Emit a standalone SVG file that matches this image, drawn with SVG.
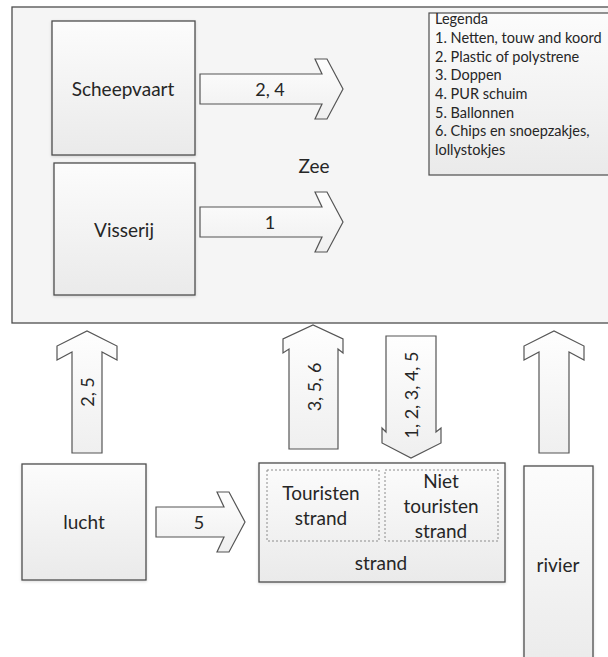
<svg xmlns="http://www.w3.org/2000/svg" width="608" height="657" viewBox="0 0 608 657">
<style>
  .box { fill: url(#g); stroke: #4d4d4d; stroke-width: 1.3; filter: url(#sh); }
  .arr { fill: url(#ga); stroke: #555; stroke-width: 1.2; stroke-linejoin: miter; }
  .dot { fill: none; stroke: #8c8c8c; stroke-width: 1; stroke-dasharray: 2 2; }
  text { font-family: Lato, "Open Sans", "Liberation Sans", sans-serif; fill: #262626; }
  .lbl { font-size: 19px; text-anchor: middle; dominant-baseline: central; }
  .al { font-size: 18px; text-anchor: middle; dominant-baseline: central; }
  .leg { font-size: 14.5px; }
</style>
<defs>
  <linearGradient id="g" x1="0" y1="0" x2="0" y2="1">
    <stop offset="0" stop-color="#fcfcfc"/>
    <stop offset="1" stop-color="#eaeaea"/>
  </linearGradient>
  <linearGradient id="ga" x1="0" y1="0" x2="0" y2="1">
    <stop offset="0" stop-color="#fefefe"/>
    <stop offset="1" stop-color="#efefef"/>
  </linearGradient>
  <filter id="sh" x="-10%" y="-10%" width="120%" height="120%">
    <feDropShadow dx="0" dy="1" stdDeviation="1.5" flood-color="#000" flood-opacity="0.15"/>
  </filter>
</defs>
<rect width="608" height="657" fill="#ffffff"/>

<g id="zee">
  <rect x="12" y="7" width="620" height="316" fill="#f5f5f5" stroke="#4d4d4d" stroke-width="1.3"/>
  <text class="lbl" x="314" y="165">Zee</text>
</g>

<g id="legenda">
  <rect x="429" y="13" width="200" height="162" fill="url(#g)" stroke="#4d4d4d" stroke-width="1.2"/>
  <text class="leg" x="435" y="24">Legenda</text>
  <text class="leg" x="435" y="43">1. Netten, touw and koord</text>
  <text class="leg" x="435" y="61.5">2. Plastic of polystrene</text>
  <text class="leg" x="435" y="80">3. Doppen</text>
  <text class="leg" x="435" y="99">4. PUR schuim</text>
  <text class="leg" x="435" y="117.5">5. Ballonnen</text>
  <text class="leg" x="435" y="136">6. Chips en snoepzakjes,</text>
  <text class="leg" x="435" y="155">lollystokjes</text>
</g>

<g id="scheepvaart">
  <rect class="box" x="52" y="21" width="143" height="134"/>
  <text class="lbl" x="123" y="88">Scheepvaart</text>
</g>

<g id="visserij">
  <rect class="box" x="54" y="163" width="141" height="132"/>
  <text class="lbl" x="124" y="229">Visserij</text>
</g>

<g id="lucht">
  <rect class="box" x="22" y="464" width="124" height="116"/>
  <text class="lbl" x="84" y="521">lucht</text>
</g>

<g id="strand">
  <rect class="box" x="259" y="463" width="246" height="119"/>
  <rect class="dot" x="267" y="470" width="112" height="71"/>
  <rect class="dot" x="385" y="470" width="113" height="71"/>
  <text class="lbl" x="321" y="492">Touristen</text>
  <text class="lbl" x="321" y="517">strand</text>
  <text class="lbl" x="441" y="480">Niet</text>
  <text class="lbl" x="441" y="505">touristen</text>
  <text class="lbl" x="441" y="530">strand</text>
  <text class="lbl" x="381" y="562">strand</text>
</g>

<g id="rivier">
  <rect class="box" x="524" y="466" width="69" height="210"/>
  <text class="lbl" x="558" y="564">rivier</text>
</g>

<g id="connectors">
  <path class="arr" d="M200,74 H322 L315,59 H327 L343,89 L327,119 H315 L322,104 H200 Z"/>
  <text class="al" x="270" y="89">2, 4</text>
  <path class="arr" d="M200,207 H322 L315,192 H327 L343,222 L327,252 H315 L322,237 H200 Z"/>
  <text class="al" x="270" y="222">1</text>
  <path class="arr" d="M156,507 H224 L217,492 H229 L245,522 L229,552 H217 L224,537 H156 Z"/>
  <text class="al" x="199" y="522">5</text>
  <path class="arr" d="M72,453 V352 L57,360 V346 L87,331 L117,346 V360 L102,352 V453 Z"/>
  <text class="al" transform="translate(87,392) rotate(-90)">2, 5</text>
  <path class="arr" d="M539,453 V352 L524,360 V346 L554,331 L584,346 V360 L569,352 V453 Z"/>
  <path class="arr" d="M289,449 V349 L283,353 V339 L313,325 L343,339 V353 L338,349 V449 Z"/>
  <text class="al" transform="translate(314,387) rotate(-90)">3, 5, 6</text>
  <path class="arr" d="M386,336 H436 V432 L441,428 V443 L411,458 L382,443 V428 L386,432 Z"/>
  <text class="al" transform="translate(411,395) rotate(-90)">1, 2, 3, 4, 5</text>
</g>
</svg>
